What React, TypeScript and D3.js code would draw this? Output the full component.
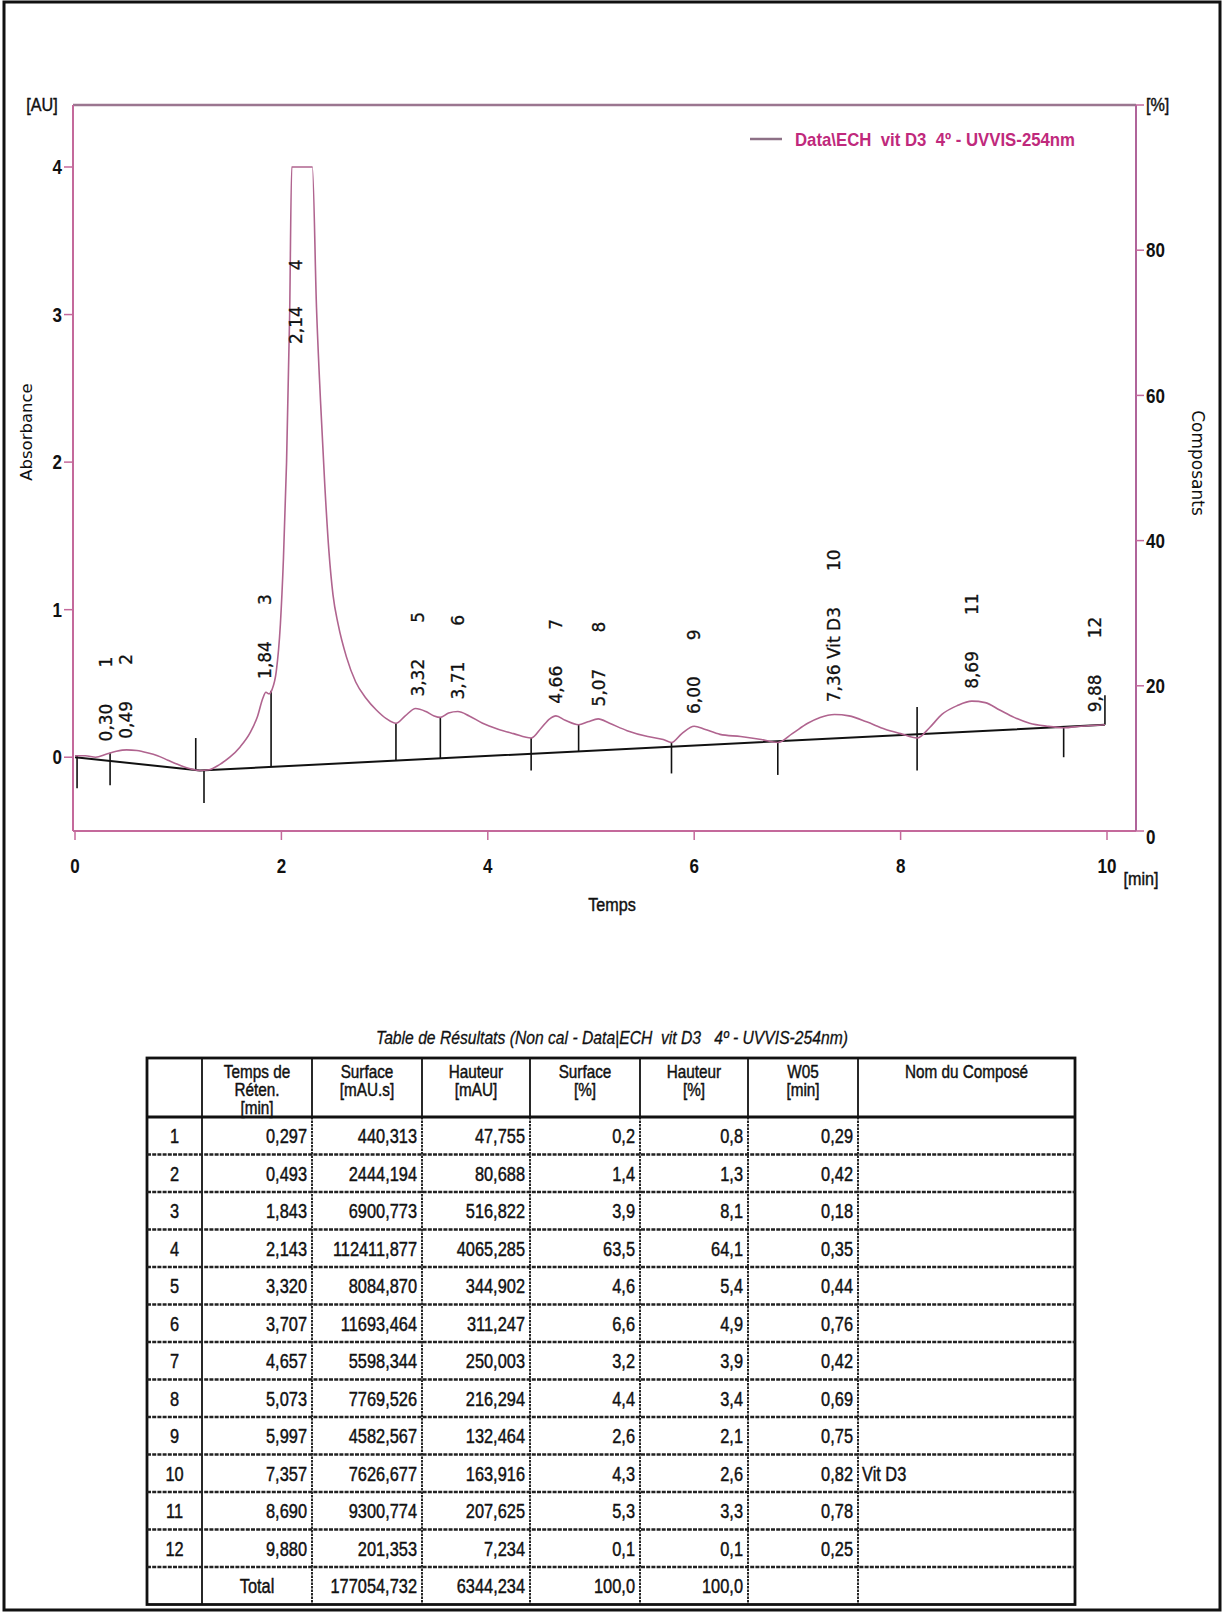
import React from "react";
import * as d3 from "d3";

// ---------- data ----------
const traceTime = [0.0,0.1,0.2,0.3,0.4,0.5,0.6,0.7,0.8,0.9,1.0,1.1,1.21,1.3,1.4,1.5,1.6,1.7,1.77,1.82,1.85,1.88,1.91,1.95,1.99,2.02,2.05,2.08,2.1,2.3,2.34,2.38,2.42,2.46,2.5,2.55,2.63,2.72,2.82,2.92,3.02,3.11,3.2,3.3,3.4,3.48,3.54,3.62,3.71,3.82,3.95,4.1,4.25,4.42,4.52,4.6,4.66,4.75,4.88,4.97,5.07,5.18,5.35,5.55,5.7,5.78,5.88,6.0,6.1,6.25,6.45,6.65,6.81,6.95,7.1,7.22,7.36,7.5,7.67,7.85,8.0,8.16,8.28,8.4,8.55,8.69,8.82,8.96,9.1,9.25,9.42,9.58,9.75,9.98];
const traceAbs = [0.01,0.01,0.0,0.02,0.04,0.05,0.045,0.03,0.01,-0.02,-0.05,-0.075,-0.09,-0.085,-0.05,0.0,0.07,0.17,0.28,0.4,0.44,0.43,0.46,0.58,0.9,1.35,2.0,3.0,4.0,4.0,3.05,2.4,1.85,1.4,1.1,0.9,0.68,0.51,0.4,0.32,0.26,0.23,0.28,0.33,0.31,0.28,0.27,0.3,0.31,0.28,0.23,0.19,0.16,0.13,0.2,0.26,0.28,0.25,0.22,0.24,0.26,0.23,0.18,0.14,0.12,0.1,0.16,0.21,0.19,0.155,0.14,0.12,0.1,0.16,0.23,0.27,0.29,0.28,0.24,0.19,0.16,0.13,0.2,0.29,0.35,0.38,0.37,0.32,0.27,0.23,0.21,0.2,0.21,0.22];

const baselineTime = [0.0, 1.21, 9.98];
const baselineAbs = [0.0, -0.09, 0.22];

// drop lines (trace down to baseline)
const dropLineTimes = [1.9, 3.11, 3.54, 4.88];
// integration event marks: [time, top AU, bottom AU]
const eventMarks: [number, number, number][] = [
  [0.02, 0.01, -0.21],
  [0.34, 0.03, -0.19],
  [1.17, 0.13, -0.09],
  [1.25, -0.09, -0.31],
  [4.42, 0.13, -0.09],
  [5.78, 0.1, -0.11],
  [6.81, 0.1, -0.12],
  [8.16, 0.34, -0.09],
  [9.58, 0.2, 0.0],
  [9.98, 0.42, 0.22],
];

const peakNumbers = [1,2,3,4,5,6,7,8,9,10,11,12];
const retentionTimes = [0.297,0.493,1.843,2.143,3.32,3.707,4.657,5.073,5.997,7.357,8.69,9.88];
const areas = [440.313,2444.194,6900.773,112411.877,8084.87,11693.464,5598.344,7769.526,4582.567,7626.677,9300.774,201.353];
const heights = [47.755,80.688,516.822,4065.285,344.902,311.247,250.003,216.294,132.464,163.916,207.625,7.234];
const areaPct = [0.2,1.4,3.9,63.5,4.6,6.6,3.2,4.4,2.6,4.3,5.3,0.1];
const heightPct = [0.8,1.3,8.1,64.1,5.4,4.9,3.9,3.4,2.1,2.6,3.3,0.1];
const w05 = [0.29,0.42,0.18,0.35,0.44,0.76,0.42,0.69,0.75,0.82,0.78,0.25];
const compoundNames = ["","","","","","","","","","Vit D3","",""];
const totalArea = 177054.732;
const totalHeight = 6344.234;
const totalAreaPct = 100.0;
const totalHeightPct = 100.0;

const xTicks = [0,2,4,6,8,10];
const yTicks = [0,1,2,3,4];
const rightTicks = [0,20,40,60,80];
const clipLevel = 4.0;

const legendLabel = "Data\\ECH  vit D3  4º - UVVIS-254nm";
const tableTitle = "Table de Résultats (Non cal - Data|ECH  vit D3   4º - UVVIS-254nm)";
const headerLines = [
  [],
  ["Temps de","Réten.","[min]"],
  ["Surface","[mAU.s]"],
  ["Hauteur","[mAU]"],
  ["Surface","[%]"],
  ["Hauteur","[%]"],
  ["W05","[min]"],
  ["Nom du Composé"],
];

// ---------- layout ----------
const W = 1225, H = 1613;
const SANS = "'Liberation Sans',Arial,sans-serif";
const DEJA = "'DejaVu Sans',Verdana,sans-serif";
const FRAME = "#c4699b";
const TRACE = "#b0648f";

const frameLeft = 73, frameRight = 1136, frameTop = 105, frameBottom = 831;
const x = d3.scaleLinear().domain([0, 10]).range([75, 1107]);
const y = d3.scaleLinear().domain([-0.5, 4]).range([831, 167]);
const yR = d3.scaleLinear().domain([0, 100]).range([831, 105]);

const fmt = (v: number, dgt: number) => v.toFixed(dgt).replace(".", ",");
const interp = (ts: number[], vs: number[], t: number) => {
  const i = Math.max(1, Math.min(ts.length - 1, d3.bisectLeft(ts, t)));
  const t0 = ts[i - 1], t1 = ts[i];
  const k = (t - t0) / (t1 - t0);
  return vs[i - 1] + k * (vs[i] - vs[i - 1]);
};

// condensed text helper
function NText(props: { x: number; y: number; anchor?: string; size?: number; bold?: boolean; italic?: boolean; sx?: number; fill?: string; children: any; dy?: string; heavy?: boolean }) {
  const { x: tx, y: ty, anchor = "start", size = 19, bold = false, italic = false, sx = 0.8, fill = "#111", dy, heavy = false } = props;
  return (
    <text transform={`translate(${tx},${ty}) scale(${sx},1)`} textAnchor={anchor} dy={dy} fontFamily={SANS} fontSize={size} fontWeight={bold ? "bold" : "normal"} fontStyle={italic ? "italic" : "normal"} fill={fill} stroke={heavy ? fill : "none"} strokeWidth={heavy ? 0.45 : 0} style={{ whiteSpace: "pre" }}>
      {props.children}
    </text>
  );
}

const colEdges = [147, 202, 312, 422, 530, 640, 748, 858, 1075];
const tableTop = 1058, headerBottom = 1117, rowH = 37.5;

export default function App() {
  const traceLine = d3.line<number>()
    .x((_, i) => x(traceTime[i]))
    .y((_, i) => y(traceAbs[i]))
    .curve(d3.curveMonotoneX)(traceAbs) as string;
  const baseLine = d3.line<number>()
    .x((_, i) => x(baselineTime[i]))
    .y((_, i) => y(baselineAbs[i]))(baselineAbs) as string;

  const nRows = peakNumbers.length + 1;
  const tableBottom = headerBottom + nRows * rowH;

  return (
    <svg width={W} height={H} style={{ position: "absolute", left: 0, top: 0, background: "#fff" }}>
      <rect x={0} y={0} width={W} height={H} fill="#fff" />
      {/* page border */}
      <rect x={4} y={2} width={1216} height={1608} fill="none" stroke="#111" strokeWidth={3} />

      {/* plot frame */}
      <line x1={frameLeft} x2={frameRight} y1={frameTop} y2={frameTop} stroke="#9b7690" strokeWidth={2.4} />
      <line x1={frameLeft} x2={frameLeft} y1={frameTop} y2={frameBottom} stroke={FRAME} strokeWidth={2} />
      <line x1={frameLeft} x2={frameRight} y1={frameBottom} y2={frameBottom} stroke={FRAME} strokeWidth={2.2} />
      <line x1={frameRight} x2={frameRight} y1={frameTop} y2={frameBottom} stroke="#b0649a" strokeWidth={2} />

      {/* left axis ticks */}
      {yTicks.map((v) => (
        <g key={"yl" + v}>
          <line x1={frameLeft - 9} x2={frameLeft} y1={y(v)} y2={y(v)} stroke={FRAME} strokeWidth={1.5} />
          <NText x={frameLeft - 11} y={y(v)} dy="0.36em" anchor="end" size={20} bold sx={0.85}>{v}</NText>
        </g>
      ))}
      <NText x={42} y={frameTop} dy="0.3em" anchor="middle" size={19} sx={0.85} heavy>[AU]</NText>

      {/* right axis ticks */}
      {rightTicks.map((v) => (
        <g key={"yr" + v}>
          <line x1={frameRight} x2={frameRight + 8} y1={yR(v)} y2={yR(v)} stroke={FRAME} strokeWidth={1.5} />
          <NText x={frameRight + 10} y={yR(v) + (v === 0 ? 6 : 0)} dy="0.36em" size={20} bold sx={0.85}>{v}</NText>
        </g>
      ))}
      <line x1={frameRight} x2={frameRight + 8} y1={yR(100)} y2={yR(100)} stroke={FRAME} strokeWidth={1.5} />
      <NText x={frameRight + 10} y={yR(100)} dy="0.3em" size={19} sx={0.85} heavy>[%]</NText>

      {/* x axis ticks */}
      {xTicks.map((v) => (
        <g key={"x" + v}>
          <line x1={x(v)} x2={x(v)} y1={frameBottom} y2={frameBottom + 9} stroke={FRAME} strokeWidth={1.5} />
          <NText x={x(v)} y={frameBottom + 42} anchor="middle" size={20} bold sx={0.85}>{v}</NText>
        </g>
      ))}
      <NText x={1141} y={frameBottom + 54} anchor="middle" size={19} sx={0.85} heavy>[min]</NText>
      <NText x={612} y={frameBottom + 80} anchor="middle" size={19} sx={0.85} heavy>Temps</NText>
      <text transform={`translate(26,432) rotate(-90)`} textAnchor="middle" dy="0.36em" fontFamily={DEJA} fontSize={16.5} fill="#111">Absorbance</text>
      <text transform={`translate(1198,463) rotate(90)`} textAnchor="middle" dy="0.36em" fontFamily={DEJA} fontSize={17} fill="#111">Composants</text>

      {/* legend */}
      <line x1={750} x2={782} y1={139} y2={139} stroke="#8d7086" strokeWidth={2.5} />
      <text x={795} y={139} dy="0.36em" fontFamily={SANS} fontWeight="bold" fontSize={19} fill="#c0297c" textLength={280} lengthAdjust="spacingAndGlyphs" style={{ whiteSpace: "pre" }}>{legendLabel}</text>

      {/* baseline */}
      <path d={baseLine} fill="none" stroke="#111" strokeWidth={2} />

      {/* drop lines */}
      {dropLineTimes.map((t) => (
        <line key={"d" + t} x1={x(t)} x2={x(t)} y1={y(interp(traceTime, traceAbs, t))} y2={y(interp(baselineTime, baselineAbs, t))} stroke="#111" strokeWidth={1.6} />
      ))}
      {/* event marks */}
      {eventMarks.map(([t, a, b]) => (
        <line key={"e" + t} x1={x(t)} x2={x(t)} y1={y(a)} y2={y(b)} stroke="#111" strokeWidth={1.6} />
      ))}

      {/* trace */}
      <path d={traceLine} fill="none" stroke={TRACE} strokeWidth={1.6} />

      {/* peak labels */}
      {peakNumbers.map((n, i) => {
        const rt = retentionTimes[i];
        const apex = interp(baselineTime, baselineAbs, rt) + heights[i] / 1000;
        const base = apex > clipLevel ? y(clipLevel * 0.7) : y(apex) - 12;
        const name = compoundNames[i];
        return (
          <text key={"pl" + n} transform={`translate(${x(rt)},${base}) rotate(-90)`} dy="0.36em" fontFamily={DEJA} fontSize={17} fill="#111" stroke="#111" strokeWidth={0.3} style={{ whiteSpace: "pre" }}>
            <tspan>{fmt(rt, 2) + (name ? " " + name : "")}</tspan>
            <tspan dx={36}>{String(n)}</tspan>
          </text>
        );
      })}

      {/* table title */}
      <text x={612} y={1044} textAnchor="middle" fontFamily={SANS} fontStyle="italic" fontSize={19} fill="#111" stroke="#111" strokeWidth={0.3} textLength={472} lengthAdjust="spacingAndGlyphs" style={{ whiteSpace: "pre" }}>{tableTitle}</text>

      {/* table */}
      <rect x={colEdges[0]} y={tableTop} width={colEdges[8] - colEdges[0]} height={tableBottom - tableTop} fill="none" stroke="#111" strokeWidth={2.8} />
      <line x1={colEdges[0]} x2={colEdges[8]} y1={headerBottom} y2={headerBottom} stroke="#111" strokeWidth={2.8} />
      {colEdges.slice(1, 8).map((cx, i) => (
        <g key={"c" + i}>
          <line x1={cx} x2={cx} y1={tableTop} y2={headerBottom} stroke="#111" strokeWidth={1.8} />
          <line x1={cx} x2={cx} y1={headerBottom} y2={tableBottom} stroke="#111" strokeWidth={1.8} strokeDasharray={i === 0 ? "none" : "2.5,1"} />
        </g>
      ))}
      {d3.range(1, nRows).map((r) => (
        <line key={"r" + r} x1={colEdges[0]} x2={colEdges[8]} y1={headerBottom + r * rowH} y2={headerBottom + r * rowH} stroke="#222" strokeWidth={2.4} strokeDasharray="4,1.2" />
      ))}
      {headerLines.map((lines, ci) =>
        lines.map((s, li) => (
          <NText key={"h" + ci + li} x={(colEdges[ci] + colEdges[ci + 1]) / 2} y={tableTop + 20 + li * 18} anchor="middle" size={18} sx={0.85} heavy>{s}</NText>
        ))
      )}
      {peakNumbers.map((n, i) => {
        const cy = headerBottom + (i + 0.5) * rowH + 7.5;
        const cells = [fmt(retentionTimes[i], 3), fmt(areas[i], 3), fmt(heights[i], 3), fmt(areaPct[i], 1), fmt(heightPct[i], 1), fmt(w05[i], 2)];
        return (
          <g key={"row" + n}>
            <NText x={(colEdges[0] + colEdges[1]) / 2} y={cy} anchor="middle" size={21} sx={0.78} heavy>{n}</NText>
            {cells.map((c, ci) => (
              <NText key={ci} x={colEdges[ci + 2] - 5} y={cy} anchor="end" size={21} sx={0.78} heavy>{c}</NText>
            ))}
            {compoundNames[i] ? (
              <NText x={colEdges[7] + 4} y={cy} size={21} sx={0.78} heavy>{compoundNames[i]}</NText>
            ) : null}
          </g>
        );
      })}
      {(() => {
        const cy = headerBottom + (peakNumbers.length + 0.5) * rowH + 7.5;
        const cells = [fmt(totalArea, 3), fmt(totalHeight, 3), fmt(totalAreaPct, 1), fmt(totalHeightPct, 1)];
        return (
          <g>
            <NText x={(colEdges[1] + colEdges[2]) / 2} y={cy} anchor="middle" size={21} sx={0.78} heavy>Total</NText>
            {cells.map((c, ci) => (
              <NText key={ci} x={colEdges[ci + 3] - 5} y={cy} anchor="end" size={21} sx={0.78} heavy>{c}</NText>
            ))}
          </g>
        );
      })()}
    </svg>
  );
}
